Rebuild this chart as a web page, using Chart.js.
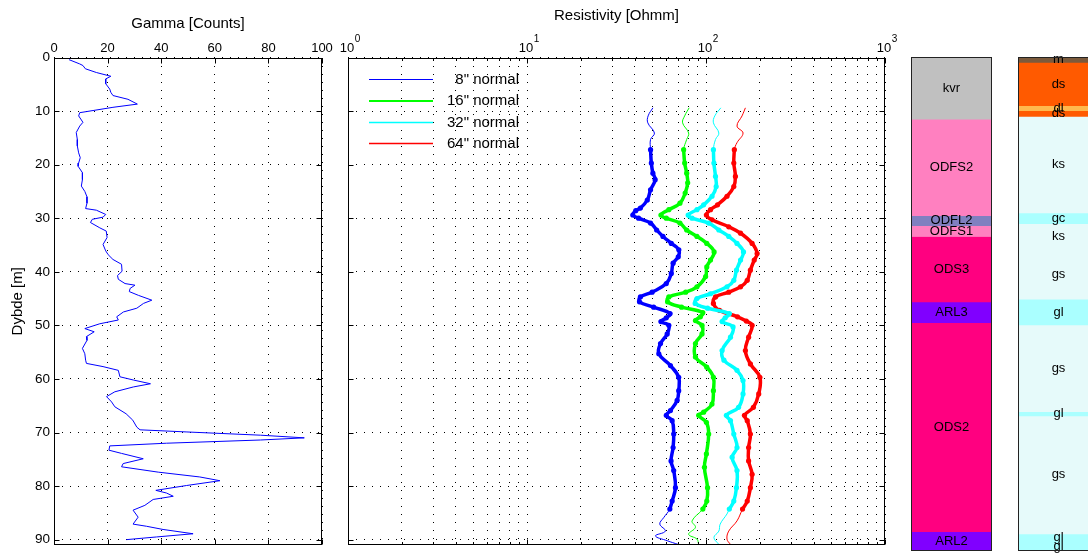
<!DOCTYPE html>
<html>
<head>
<meta charset="utf-8">
<script src="https://cdn.jsdelivr.net/npm/chart.js@4.4.1/dist/chart.umd.min.js"></script>
<style>
  html, body { margin: 0; padding: 0; background: #fff; width: 1088px; height: 555px; overflow: hidden; }
  canvas { position: absolute; top: 0; }
</style>
</head>
<body>
<canvas id="gammaChart" width="340" height="555" style="left:0"></canvas>
<canvas id="resChart" width="580" height="555" style="left:330px"></canvas>
<canvas id="unitChart" width="95" height="555" style="left:905px"></canvas>
<canvas id="soilChart" width="95" height="555" style="left:1012px"></canvas>
<script>
// ---- gamma log ----
const gammaDepth = [0.4, 1.2, 1.5, 2.1, 2.8, 3.5, 4.0, 4.9, 5.9, 6.5, 7.1, 7.8, 8.7, 9.3, 10.3, 10.9, 12.1, 12.8, 14.0, 15.3,
  16.5, 17.8, 18.7, 19.7, 20.3, 21.5, 22.8, 24.0, 25.0, 26.0, 27.2, 28.2, 28.5, 29.3, 29.8, 30.2, 30.8, 31.8, 32.4, 33.6,
  34.9, 36.1, 36.8, 37.7, 38.6, 39.9, 40.7, 41.4, 42.2, 42.5, 43.1, 43.7, 44.4, 45.3, 45.9, 46.8, 47.5, 48.4, 49.0, 49.7,
  50.6, 51.2, 52.1, 52.8, 54.3, 55.3, 56.5, 57.1, 57.7, 58.4, 59.6, 60.2, 60.9, 61.5, 62.4, 63.3, 64.3, 65.2, 66.5, 67.7,
  69.0, 69.5, 69.9, 70.5, 71.0, 71.4, 72.0, 72.5, 73.3, 73.9, 74.9, 75.8, 76.4, 77.4, 78.3, 79.0, 79.9, 80.8, 81.3, 81.9,
  82.5, 83.6, 84.5, 85.8, 87.1, 87.5, 88.1, 88.9, 89.5, 90.0];
const gammaCounts = [5.6, 9.6, 10.8, 11.7, 15.8, 21.2, 19.3, 19.3, 20.8, 21.2, 22, 27.6, 31.1, 22, 9.6, 9.2, 10.8, 9.6, 8.3, 8.7,
  8.7, 9.2, 9.8, 9.2, 9.0, 10.6, 10.6, 10.2, 11.5, 12.3, 12.3, 11.8, 15.8, 19.3, 18.3, 14.3, 13.6, 17.1, 19.5, 19.8,
  18.3, 19.3, 20.2, 22, 25.2, 25.4, 23.7, 24.0, 26.5, 30.2, 28.4, 28.1, 31.5, 36.5, 33.4, 30.9, 25.9, 23.4, 24, 17.1,
  11.5, 15, 12.1, 12.3, 10.6, 11.5, 11.8, 12.1, 18.3, 24, 24.6, 29.6, 36, 29.6, 22.7, 19.6, 21.5, 22.7, 26.9, 29.4,
  30.9, 32.1, 49.6, 77, 93.4, 77, 42, 20.8, 20.5, 25.2, 33.3, 25.8, 25.2, 38.9, 54.4, 61.9, 49.4, 38, 42, 44.5,
  37, 33.9, 29.5, 31.4, 29.5, 34.5, 40.7, 51.9, 38.2, 27];
const gammaTicks = [0, 20, 40, 60, 80, 100];
const depthTicks = [0, 10, 20, 30, 40, 50, 60, 70, 80, 90];

// ---- resistivity logs ----
const depth8 = [9.4, 10.9, 12.2, 14.1, 15.3, 17.2, 19.7, 21.6, 22.8, 24.7, 26.6, 28.1, 28.6, 29.4, 30.0, 30.9, 32.2, 33.4, 34.7, 35.9,
  37.2, 38.4, 40.3, 42.2, 43.8, 44.7, 45.6, 46.6, 47.8, 48.6, 49.3, 50.0, 51.6, 53.4, 55.3, 57.5, 59.7, 62.2, 64.0, 65.9,
  66.8, 67.8, 70.3, 72.8, 75.3, 77.1, 80.3, 82.8, 84.3, 85.9, 87.1, 88.4, 89.3, 90.2, 90.9];
const res8 = [50.5, 47.5, 47.3, 51.5, 49, 49, 49.5, 50.5, 52, 49, 47, 43, 40.5, 39, 42, 49, 53, 57.5, 64, 70.5,
  70, 65.5, 64, 60, 50, 43, 42.5, 51, 63, 60, 56, 62, 60.7, 55.7, 54.5, 63.3, 70.4, 70.4, 69, 63.3,
  60, 64.7, 66, 65.5, 63.8, 66, 67.5, 64.7, 62.8, 58, 55.2, 59.3, 52.2, 60.7, 70];

const depth16 = [9.4, 10.9, 12.2, 14.1, 15.3, 17.2, 19.7, 21.6, 23.4, 25.3, 27.2, 28.4, 29.4, 30.0, 30.9, 32.2, 33.4, 34.7, 36.3, 37.8,
  39.1, 40.9, 42.8, 43.8, 44.7, 45.6, 46.6, 47.6, 48.4, 49.1, 50.0, 51.6, 53.4, 55.9, 57.8, 59.7, 62.2, 64.7, 66.2, 66.8,
  68.1, 70.3, 74.0, 76.5, 80.3, 82.8, 84.3, 86.5, 87.7, 89.0, 89.9, 90.9];
const res16 = [80.5, 76, 74, 80, 78, 75, 76, 78, 79, 76.5, 71.5, 62, 56, 60, 71.5, 78, 89, 101, 111, 106,
  101, 99.5, 89, 77, 62, 61, 73, 96, 93, 87.3, 95, 95, 87.3, 87.3, 101, 110, 110, 108, 97, 91,
  100.5, 103.5, 100.5, 98, 102, 101, 96, 83.6, 87.3, 80, 89, 91];

const depth32 = [9.4, 10.9, 12.2, 14.1, 15.3, 17.2, 19.7, 22.2, 24.1, 25.9, 27.5, 28.4, 29.4, 30.0, 30.9, 32.2, 33.4, 34.7, 36.3, 37.8,
  39.7, 41.6, 42.8, 44.1, 45.0, 45.9, 46.8, 47.8, 48.6, 49.3, 50.3, 52.2, 54.7, 56.5, 58.4, 60.3, 62.8, 65.3, 66.8, 67.8,
  70.3, 72.8, 74.6, 77.1, 80.3, 82.8, 84.3, 85.2, 87.1, 88.4, 89.6, 90.9];
const res32 = [121, 112, 110, 118, 113, 110, 110.7, 113, 114, 108, 97, 89, 79.5, 83.6, 103.5, 118, 134, 149, 162, 156,
  148, 143, 131, 106, 89, 87, 102, 135, 128, 123, 141.6, 137, 123, 126, 149, 161, 161, 152, 130, 137,
  143, 149, 140, 149, 148, 143, 135, 131, 120, 118, 110.7, 118];

const depth64 = [9.4, 10.9, 12.8, 14.1, 15.9, 17.2, 19.7, 22.2, 24.1, 25.9, 27.5, 28.4, 29.4, 30.3, 31.6, 32.8, 34.7, 36.6, 37.8, 39.7,
  41.6, 42.8, 43.8, 44.7, 45.9, 47.2, 48.4, 49.2, 50.0, 52.2, 54.7, 57.2, 59.7, 62.8, 65.3, 66.8, 67.8, 70.3, 72.8, 75.3,
  77.8, 80.3, 82.8, 84.3, 86.5, 88.4, 89.9, 90.9];
const res64 = [166, 159, 149, 161, 149, 144, 143, 146, 143, 131, 116, 106, 100.5, 108, 134, 156, 181, 193, 186, 177,
  170, 156, 134, 113, 110, 119, 150, 168, 181, 173, 166, 177, 200, 197, 184, 164, 170, 177, 173, 173,
  181, 177, 170, 160, 149, 134, 131, 137];

const resLabels = ['8" normal', '16" normal', '32" normal', '64" normal'];
const resDecades = [0, 1, 2, 3];
const resColors = ['#0000ff', '#00ff00', '#00ffff', '#ff0000'];
const thickTop = 17.2, thickBase = 84.3;

// ---- lithology columns ----
const unitNames = ['kvr', 'ODFS2', 'ODFL2', 'ODFS1', 'ODS3', 'ARL3', 'ODS2', 'ARL2'];
const unitTop = [0, 11.6, 29.6, 31.5, 33.5, 45.7, 49.6, 88.6];
const unitBase = [11.6, 29.6, 31.5, 33.5, 45.7, 49.6, 88.6, 92.2];
const unitColors = ['#c0c0c0', '#ff80c0', '#8080c0', '#ff80c0', '#ff0080', '#8000ff', '#ff0080', '#8000ff'];

const soilNames = ['m', 'ds', 'dl', 'ds', 'ks', 'gc', 'ks', 'gs', 'gl', 'gs', 'gl', 'gs', 'gl', 'gl'];
const soilTop = [0, 1.0, 9.1, 10.0, 11.1, 29.1, 31.1, 35.8, 45.2, 50.0, 66.2, 67.0, 89.0, 90.4];
const soilBase = [1.0, 9.1, 10.0, 11.1, 29.1, 31.1, 35.8, 45.2, 50.0, 66.2, 67.0, 89.0, 90.4, 92.2];
const soilColors = { m: '#7b5a3c', ds: '#ff5a00', dl: '#ffb84d', ks: '#e6fafa', gc: '#aaffff', gs: '#e6fafa', gl: '#aaffff' };

const FONT = "'Liberation Sans', Arial, Helvetica, sans-serif";
Chart.defaults.font.family = FONT;
Chart.defaults.color = '#000';
Chart.defaults.animation = false;

const DEPTH_MAX = 91;
const dots = [1, 7];

// no extra room for half tick labels, the plot area is fixed by padding
function fixAxis(size, isVertical) {
  return s => {
    if (isVertical) s.width = size; else s.height = size;
    s.paddingLeft = 0; s.paddingRight = 0; s.paddingTop = 0; s.paddingBottom = 0;
  };
}

// draws the box round the axes and the small inward ticks
function axisBox(isMinor) {
  return {
    id: 'axisBox',
    afterDraw(chart) {
      const { ctx, chartArea: a } = chart;
      const xs = chart.scales.x, ys = chart.scales.y;
      const L = Math.round(a.left) + 0.5, R = Math.round(a.right) - 0.5;
      const T = Math.round(a.top) + 0.5, B = Math.round(a.bottom) - 0.5;
      ctx.save();
      ctx.strokeStyle = '#000';
      ctx.lineWidth = 1;
      ctx.beginPath();
      xs.ticks.forEach(t => {
        const len = isMinor && isMinor(t.value) ? 2.5 : 5;
        const px = Math.round(xs.getPixelForValue(t.value)) + 0.5;
        ctx.moveTo(px, T); ctx.lineTo(px, T + len);
        ctx.moveTo(px, B); ctx.lineTo(px, B - len);
      });
      ys.ticks.forEach(t => {
        const py = Math.round(ys.getPixelForValue(t.value)) + 0.5;
        ctx.moveTo(L, py); ctx.lineTo(L + 5, py);
        ctx.moveTo(R, py); ctx.lineTo(R - 5, py);
      });
      ctx.stroke();
      ctx.strokeRect(L, T, R - L, B - T);
      ctx.restore();
    }
  };
}

function depthAxis(extra) {
  return Object.assign({
    type: 'linear',
    reverse: true,
    min: 0,
    max: DEPTH_MAX,
    afterBuildTicks: s => { s.ticks = depthTicks.map(v => ({ value: v })); },
    grid: { drawTicks: false, color: '#000', lineWidth: 1 },
    border: { display: false, dash: dots }
  }, extra);
}

// ---- Gamma ----
new Chart(document.getElementById('gammaChart'), {
  type: 'line',
  data: {
    datasets: [{
      data: gammaDepth.map((d, i) => ({ x: gammaCounts[i], y: d })),
      borderColor: '#0000ff',
      borderWidth: 1,
      pointRadius: 0,
      tension: 0,
      fill: false
    }]
  },
  options: {
    responsive: false,
    devicePixelRatio: 1,
    events: [],
    layout: { padding: { left: 0, right: 18, top: 0, bottom: 10 } },
    plugins: { legend: { display: false }, tooltip: { enabled: false } },
    scales: {
      x: {
        type: 'linear',
        position: 'top',
        min: 0,
        max: 100,
        afterBuildTicks: s => { s.ticks = gammaTicks.map(v => ({ value: v })); },
        ticks: { padding: 1, maxRotation: 0, autoSkip: false, font: { size: 13 } },
        grid: { drawTicks: false, color: '#000' },
        border: { display: false, dash: dots },
        title: { display: true, text: 'Gamma [Counts]', font: { size: 15 }, padding: { top: 15, bottom: 0 } },
        afterFit: fixAxis(57.5, false)
      },
      y: depthAxis({
        ticks: { padding: 4, autoSkip: false, font: { size: 13.5 } },
        title: { display: true, text: 'Dybde [m]', font: { size: 15 }, padding: { top: 9, bottom: 0 } },
        afterFit: fixAxis(54, true)
      })
    }
  },
  plugins: [axisBox()]
});

// ---- Resistivity ----
const resGrid = [];
for (let e = 0; e < 3; e++) for (let m = 1; m < 10; m++) resGrid.push(m * Math.pow(10, e));
resGrid.push(1000);
const isMinorRes = v => Math.abs(Math.log10(v) - Math.round(Math.log10(v))) > 1e-6;

const resDepths = [depth8, depth16, depth32, depth64];
const resValues = [res8, res16, res32, res64];
const legendWidths = [1, 2, 1.5, 1.5];
const resDatasets = [];
resValues.forEach((vals, k) => {
  const pts = vals.map((v, i) => ({ x: v, y: resDepths[k][i] }));
  resDatasets.push({
    label: resLabels[k],
    data: pts,
    borderColor: resColors[k],
    borderWidth: 1,
    pointRadius: 0,
    tension: 0.4,
    fill: false
  });
  resDatasets.push({
    label: resLabels[k] + ' thick',
    data: pts.filter(p => p.y >= thickTop && p.y <= thickBase),
    borderColor: resColors[k],
    backgroundColor: resColors[k],
    borderWidth: 3.5,
    pointRadius: 2.6,
    pointBorderWidth: 0,
    pointBackgroundColor: resColors[k],
    tension: 0.4,
    fill: false
  });
});

const resLabelsPlugin = {
  id: 'resLabels',
  afterDraw(chart) {
    const { ctx } = chart;
    const xs = chart.scales.x;
    ctx.save();
    ctx.fillStyle = '#000';
    ctx.textBaseline = 'middle';
    resDecades.forEach(e => {
      const px = xs.getPixelForValue(Math.pow(10, e));
      ctx.font = '13px ' + FONT;
      ctx.textAlign = 'center';
      ctx.fillText('10', px - 1, 48.5);
      const w = ctx.measureText('10').width;
      ctx.font = '10px ' + FONT;
      ctx.textAlign = 'left';
      ctx.fillText(String(e), px - 1 + w / 2 + 0.5, 39);
    });
    // legend inside the axes
    const rows = [79.5, 101, 122.5, 143.5];
    resLabels.forEach((lab, k) => {
      ctx.strokeStyle = resColors[k];
      ctx.lineWidth = legendWidths[k];
      ctx.beginPath();
      ctx.moveTo(39, rows[k]);
      ctx.lineTo(103, rows[k]);
      ctx.stroke();
      ctx.font = '15px ' + FONT;
      ctx.textAlign = 'right';
      ctx.fillStyle = '#000';
      ctx.fillText(lab, 189, rows[k]);
    });
    ctx.restore();
  }
};

new Chart(document.getElementById('resChart'), {
  type: 'line',
  data: { datasets: resDatasets },
  options: {
    responsive: false,
    devicePixelRatio: 1,
    events: [],
    layout: { padding: { left: 18, right: 25, top: 0, bottom: 10 } },
    plugins: { legend: { display: false }, tooltip: { enabled: false } },
    scales: {
      x: {
        type: 'logarithmic',
        position: 'top',
        min: 1,
        max: 1000,
        afterBuildTicks: s => { s.ticks = resGrid.map(v => ({ value: v, major: !isMinorRes(v) })); },
        ticks: { display: false, autoSkip: false },
        grid: { drawTicks: false, color: '#000' },
        border: { display: false, dash: dots },
        title: { display: true, text: 'Resistivity [Ohmm]', font: { size: 15 }, padding: { top: 6.5, bottom: 0 } },
        afterFit: fixAxis(57.5, false)
      },
      y: depthAxis({
        ticks: { display: false },
        afterFit: fixAxis(0, true)
      })
    }
  },
  plugins: [axisBox(isMinorRes), resLabelsPlugin]
});

// ---- lithology columns ----
const layerLabels = {
  id: 'layerLabels',
  afterDatasetsDraw(chart) {
    const { ctx, chartArea: a } = chart;
    ctx.save();
    ctx.fillStyle = '#000';
    ctx.font = '13px ' + FONT;
    ctx.textAlign = 'center';
    ctx.textBaseline = 'middle';
    chart.data.datasets.forEach((ds, i) => {
      const el = chart.getDatasetMeta(i).data[0];
      ctx.fillText(ds.label, (a.left + a.right) / 2, (el.y + el.base) / 2);
    });
    ctx.strokeStyle = '#222';
    ctx.lineWidth = 1;
    ctx.strokeRect(Math.round(a.left) + 0.5, Math.round(a.top) + 0.5,
      Math.round(a.right) - Math.round(a.left) - 1, Math.round(a.bottom) - Math.round(a.top) - 1);
    ctx.restore();
  }
};

function columnChart(id, names, tops, bases, colorOf) {
  return new Chart(document.getElementById(id), {
    type: 'bar',
    data: {
      labels: [''],
      datasets: names.map((n, i) => ({
        label: n,
        data: [[tops[i], bases[i]]],
        backgroundColor: colorOf(n, i),
        borderWidth: 0,
        barPercentage: 1,
        categoryPercentage: 1,
        grouped: false
      }))
    },
    options: {
      responsive: false,
      devicePixelRatio: 1,
      events: [],
      layout: { padding: { left: 6, right: 8, top: 57, bottom: 4 } },
      plugins: { legend: { display: false }, tooltip: { enabled: false } },
      scales: {
        x: { display: false },
        y: { display: false, reverse: true, min: 0, max: 92.2 }
      }
    },
    plugins: [layerLabels]
  });
}

columnChart('unitChart', unitNames, unitTop, unitBase, (n, i) => unitColors[i]);
columnChart('soilChart', soilNames, soilTop, soilBase, n => soilColors[n]);
</script>
</body>
</html>
